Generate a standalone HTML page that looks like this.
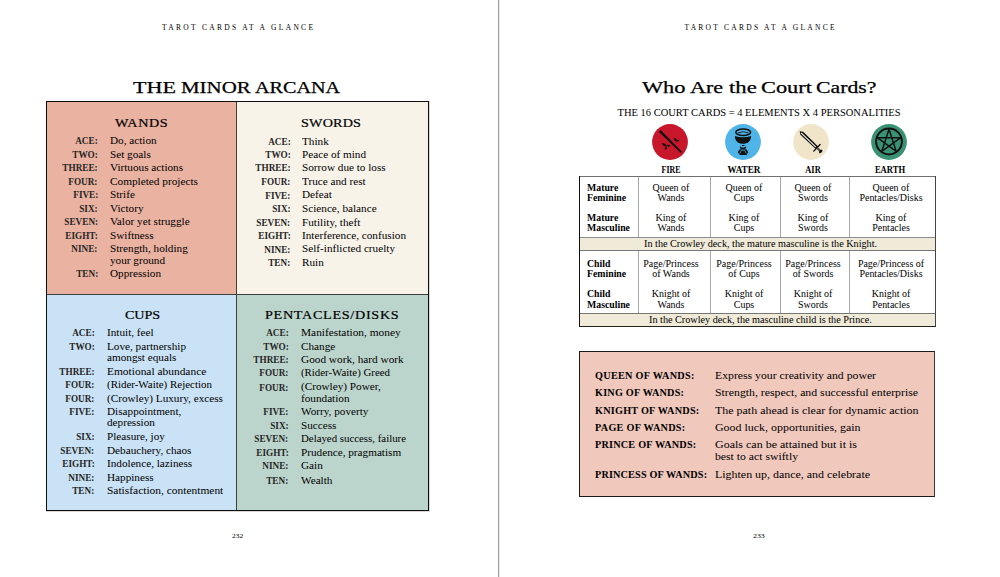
<!DOCTYPE html>
<html><head><meta charset="utf-8"><title>Tarot Cards at a Glance</title>
<style>
html,body{margin:0;padding:0;background:#fff;}
body{width:1000px;height:577px;position:relative;overflow:hidden;font-family:"Liberation Serif",serif;color:#1a1a1a;}
.t{position:absolute;white-space:nowrap;line-height:1;color:#000;}
.b{position:absolute;box-sizing:border-box;}
.ic{position:absolute;}
</style></head><body>
<!-- spine -->
<div class="b" style="left:498px;top:0;width:1px;height:577px;background:#a2a2a2"></div>
<div class="b" style="left:499px;top:0;width:1px;height:577px;background:#e6e6e6"></div>

<!-- left page: minor arcana grid -->
<div class="b" style="left:46px;top:101px;width:383px;height:410px;background:#0e0e0e"></div>
<div class="b" style="left:47px;top:102px;width:189px;height:192px;background:#eab2a0"></div>
<div class="b" style="left:237px;top:102px;width:191px;height:192px;background:#f8f3e9"></div>
<div class="b" style="left:47px;top:295px;width:189px;height:215px;background:#cae2f5"></div>
<div class="b" style="left:237px;top:295px;width:191px;height:215px;background:#bcd5cc"></div>
<div class="b" style="left:236px;top:102px;width:1px;height:408px;background:#3b403d"></div>
<div class="b" style="left:47px;top:294px;width:381px;height:1px;background:#3b403d"></div>
<div class="b" style="left:46px;top:511px;width:384px;height:1px;background:#d8d8d8"></div>
<div class="b" style="left:429px;top:101px;width:1px;height:411px;background:#d8d8d8"></div>

<!-- right page: court card table -->
<div class="b" style="left:579px;top:176px;width:357px;height:151px;background:#fff"></div>
<div class="b" style="left:579px;top:176px;width:357px;height:1px;background:#707070"></div>
<div class="b" style="left:579px;top:176px;width:1px;height:151px;background:#111"></div>
<div class="b" style="left:935px;top:176px;width:1px;height:151px;background:#444"></div>
<div class="b" style="left:579px;top:326px;width:357px;height:1px;background:#222"></div>
<div class="b" style="left:638px;top:177px;width:1px;height:60px;background:#a8a8a8"></div>
<div class="b" style="left:710px;top:177px;width:1px;height:60px;background:#a8a8a8"></div>
<div class="b" style="left:780px;top:177px;width:1px;height:60px;background:#a8a8a8"></div>
<div class="b" style="left:849px;top:177px;width:1px;height:60px;background:#a8a8a8"></div>
<div class="b" style="left:638px;top:251px;width:1px;height:62px;background:#a8a8a8"></div>
<div class="b" style="left:710px;top:251px;width:1px;height:62px;background:#a8a8a8"></div>
<div class="b" style="left:780px;top:251px;width:1px;height:62px;background:#a8a8a8"></div>
<div class="b" style="left:849px;top:251px;width:1px;height:62px;background:#a8a8a8"></div>
<div class="b" style="left:580px;top:237px;width:355px;height:1px;background:#8c8c8c"></div>
<div class="b" style="left:580px;top:238px;width:355px;height:12px;background:#f0ead8"></div>
<div class="b" style="left:580px;top:250px;width:355px;height:1px;background:#777"></div>
<div class="b" style="left:580px;top:313px;width:355px;height:1px;background:#777"></div>
<div class="b" style="left:580px;top:314px;width:355px;height:12px;background:#f0ead8"></div>

<!-- wands box -->
<div class="b" style="left:579px;top:351px;width:356px;height:146px;background:#f0c8bc;border:1px solid #1e1a18;border-right-color:#3e3430"></div>

<svg class="ic" style="left:650.1px;top:121.9px" width="40" height="40" viewBox="-20 -20 40 40"><circle r="17.9" fill="#c8172a"/><path d="M-11.22,-10.18 L10.70,11.00 L11.90,9.80 L-9.38,-12.02Z" fill="#111"/><path d="M-9.2,-8.6 L-7.4,-7.2" stroke="#5a0c12" stroke-width="0.6"/><path d="M4.40,-4.30 Q3.31,-1.46 6.20,-0.50 Q7.29,-3.34 4.40,-4.30Z" fill="#111"/><path d="M6.00,-0.60 Q8.38,0.44 9.50,-1.90 Q7.12,-2.94 6.00,-0.60Z" fill="#111"/><path d="M-8.10,1.30 Q-7.01,4.95 -3.30,4.10 Q-4.39,0.45 -8.10,1.30Z" fill="#111"/><path d="M-3.40,4.00 Q-1.04,5.17 0.70,3.20 Q-1.66,2.03 -3.40,4.00Z" fill="#111"/><path d="M-3.30,3.90 Q-6.10,4.99 -4.80,7.70 Q-2.00,6.61 -3.30,3.90Z" fill="#111"/></svg>
<svg class="ic" style="left:723.0px;top:121.80000000000001px" width="40" height="40" viewBox="-20 -20 40 40"><circle r="17.9" fill="#4fb4e8"/><path d="M-8.1,-6.0 Q0,-3.4 8.1,-6.0 C8.1,-1.0 4.8,1.8 0,1.8 C-4.8,1.8 -8.1,-1.0 -8.1,-6.0Z" fill="#111"/><ellipse cx="0.2" cy="-9.7" rx="7.4" ry="3.2" fill="#4fb4e8" stroke="#111" stroke-width="1.5"/><path d="M-5.2,-9.0 Q0.2,-11.6 5.6,-9.0" fill="none" stroke="#111" stroke-width="0.9"/><path d="M-1.4,3.1 L1.6,3.1 L1.2,4.0 L-1.0,4.0Z" fill="#111"/><path d="M-3.2,4.6 Q0,8.4 3.2,4.6 L2.6,6.4 Q0,8.2 -2.6,6.4Z" fill="#111"/><path d="M-3.0,4.9 Q0,7.6 3.0,4.9" fill="none" stroke="#111" stroke-width="1.2"/><path d="M-3.2,7.3 L3.4,7.3 L5.3,10.2 L3.6,12.9 L-3.0,12.9 L-5.4,10.2Z" fill="#111"/><path d="M-3.2,11.6 L-1.7,8.3 L1.8,8.3 L3.3,11.6" fill="none" stroke="#4fb4e8" stroke-width="0.75"/></svg>
<svg class="ic" style="left:791.3px;top:121.9px" width="40" height="40" viewBox="-20 -20 40 40"><circle r="17.9" fill="#f1e5c9"/><path d="M-11.32,-10.71 L-10.61,-7.26 L4.52,6.83 L6.88,4.37 L-7.84,-10.15Z" fill="#111"/><path d="M-9.94,-9.11 L4.70,4.91" stroke="#fbf7ee" stroke-width="1.1"/><path d="M2.73,9.13 L9.10,2.49" stroke="#000" stroke-width="1.2" stroke-linecap="round"/><path d="M6.13,6.02 L9.02,8.78" stroke="#4a4a4a" stroke-width="2.2"/><ellipse cx="9.74" cy="9.47" rx="1.3" ry="2.1" transform="rotate(43.8 9.74 9.47)" fill="#111"/></svg>
<svg class="ic" style="left:869.2px;top:121.80000000000001px" width="40" height="40" viewBox="-20 -20 40 40"><circle r="17.9" fill="#3a9274"/><circle cy="-0.5" r="12.9" fill="none" stroke="#111" stroke-width="2.0"/><path d="M0.00,-12.80 L7.23,9.45 L-11.70,-4.30 L11.70,-4.30 L-7.23,9.45Z" fill="none" stroke="#111" stroke-width="1.5" stroke-linejoin="bevel"/></svg>
<div class="t" style="left:162.00px;top:24px;font-size:7.5px;letter-spacing:2.300px;">TAROT CARDS AT A GLANCE</div>
<div class="t" style="left:684.40px;top:24px;font-size:7.5px;letter-spacing:2.260px;">TAROT CARDS AT A GLANCE</div>
<div class="t" style="left:133.30px;top:79px;font-size:17px;-webkit-text-stroke:0.25px #000;transform:scaleX(1.2982);transform-origin:0 0;">THE</div>
<div class="t" style="left:180.80px;top:79px;font-size:17px;-webkit-text-stroke:0.25px #000;transform:scaleX(1.2299);transform-origin:0 0;">MINOR</div>
<div class="t" style="left:255.20px;top:79px;font-size:17px;-webkit-text-stroke:0.25px #000;transform:scaleX(1.1853);transform-origin:0 0;">ARCANA</div>
<div class="t" style="left:115.00px;top:117px;font-size:12px;letter-spacing:0.476px;-webkit-text-stroke:0.2px #000;transform:scaleX(1.1800);transform-origin:0 0;">WANDS</div>
<div class="t" style="left:301.00px;top:117px;font-size:12px;letter-spacing:0.166px;-webkit-text-stroke:0.2px #000;transform:scaleX(1.1800);transform-origin:0 0;">SWORDS</div>
<div class="t" style="left:124.90px;top:309px;font-size:12px;letter-spacing:-0.095px;-webkit-text-stroke:0.2px #000;transform:scaleX(1.1800);transform-origin:0 0;">CUPS</div>
<div class="t" style="left:265.00px;top:309px;font-size:12px;letter-spacing:0.589px;-webkit-text-stroke:0.2px #000;transform:scaleX(1.1800);transform-origin:0 0;">PENTACLES/DISKS</div>
<div class="t" style="right:902.20px;top:137px;font-size:9.3px;font-weight:700;-webkit-text-stroke:0;color:#262626;transform:scaleX(0.9900);transform-origin:100% 0;">ACE:</div>
<div class="t" style="left:110.40px;top:136px;font-size:10px;transform:scaleX(1.1200);transform-origin:0 0;">Do, action</div>
<div class="t" style="right:902.20px;top:151px;font-size:9.3px;font-weight:700;-webkit-text-stroke:0;color:#262626;transform:scaleX(0.9900);transform-origin:100% 0;">TWO:</div>
<div class="t" style="left:110.40px;top:150px;font-size:10px;transform:scaleX(1.1200);transform-origin:0 0;">Set goals</div>
<div class="t" style="right:902.20px;top:164px;font-size:9.3px;font-weight:700;-webkit-text-stroke:0;color:#262626;transform:scaleX(0.9900);transform-origin:100% 0;">THREE:</div>
<div class="t" style="left:110.40px;top:163px;font-size:10px;transform:scaleX(1.1200);transform-origin:0 0;">Virtuous actions</div>
<div class="t" style="right:902.20px;top:178px;font-size:9.3px;font-weight:700;-webkit-text-stroke:0;color:#262626;transform:scaleX(0.9900);transform-origin:100% 0;">FOUR:</div>
<div class="t" style="left:110.40px;top:177px;font-size:10px;transform:scaleX(1.1275);transform-origin:0 0;">Completed projects</div>
<div class="t" style="right:902.20px;top:191px;font-size:9.3px;font-weight:700;-webkit-text-stroke:0;color:#262626;transform:scaleX(0.9900);transform-origin:100% 0;">FIVE:</div>
<div class="t" style="left:110.40px;top:190px;font-size:10px;transform:scaleX(1.1200);transform-origin:0 0;">Strife</div>
<div class="t" style="right:902.20px;top:205px;font-size:9.3px;font-weight:700;-webkit-text-stroke:0;color:#262626;transform:scaleX(0.9900);transform-origin:100% 0;">SIX:</div>
<div class="t" style="left:110.40px;top:204px;font-size:10px;transform:scaleX(1.1200);transform-origin:0 0;">Victory</div>
<div class="t" style="right:902.20px;top:218px;font-size:9.3px;font-weight:700;-webkit-text-stroke:0;color:#262626;transform:scaleX(0.9900);transform-origin:100% 0;">SEVEN:</div>
<div class="t" style="left:110.40px;top:217px;font-size:10px;transform:scaleX(1.1200);transform-origin:0 0;">Valor yet struggle</div>
<div class="t" style="right:902.20px;top:232px;font-size:9.3px;font-weight:700;-webkit-text-stroke:0;color:#262626;transform:scaleX(0.9900);transform-origin:100% 0;">EIGHT:</div>
<div class="t" style="left:110.40px;top:231px;font-size:10px;transform:scaleX(1.1200);transform-origin:0 0;">Swiftness</div>
<div class="t" style="right:902.20px;top:245px;font-size:9.3px;font-weight:700;-webkit-text-stroke:0;color:#262626;transform:scaleX(0.9900);transform-origin:100% 0;">NINE:</div>
<div class="t" style="left:110.40px;top:244px;font-size:10px;transform:scaleX(1.1200);transform-origin:0 0;">Strength, holding</div>
<div class="t" style="left:110.40px;top:256px;font-size:10px;transform:scaleX(1.1200);transform-origin:0 0;">your ground</div>
<div class="t" style="right:902.20px;top:270px;font-size:9.3px;font-weight:700;-webkit-text-stroke:0;color:#262626;transform:scaleX(0.9900);transform-origin:100% 0;">TEN:</div>
<div class="t" style="left:110.40px;top:269px;font-size:10px;transform:scaleX(1.1200);transform-origin:0 0;">Oppression</div>
<div class="t" style="right:709.60px;top:138px;font-size:9.3px;font-weight:700;-webkit-text-stroke:0;color:#262626;transform:scaleX(0.9900);transform-origin:100% 0;">ACE:</div>
<div class="t" style="left:302.40px;top:137px;font-size:10px;transform:scaleX(1.1200);transform-origin:0 0;">Think</div>
<div class="t" style="right:709.60px;top:151px;font-size:9.3px;font-weight:700;-webkit-text-stroke:0;color:#262626;transform:scaleX(0.9900);transform-origin:100% 0;">TWO:</div>
<div class="t" style="left:302.40px;top:150px;font-size:10px;transform:scaleX(1.1200);transform-origin:0 0;">Peace of mind</div>
<div class="t" style="right:709.60px;top:164px;font-size:9.3px;font-weight:700;-webkit-text-stroke:0;color:#262626;transform:scaleX(0.9900);transform-origin:100% 0;">THREE:</div>
<div class="t" style="left:302.40px;top:163px;font-size:10px;transform:scaleX(1.1200);transform-origin:0 0;">Sorrow due to loss</div>
<div class="t" style="right:709.60px;top:178px;font-size:9.3px;font-weight:700;-webkit-text-stroke:0;color:#262626;transform:scaleX(0.9900);transform-origin:100% 0;">FOUR:</div>
<div class="t" style="left:302.40px;top:177px;font-size:10px;transform:scaleX(1.1200);transform-origin:0 0;">Truce and rest</div>
<div class="t" style="right:709.60px;top:192px;font-size:9.3px;font-weight:700;-webkit-text-stroke:0;color:#262626;transform:scaleX(0.9900);transform-origin:100% 0;">FIVE:</div>
<div class="t" style="left:302.40px;top:190px;font-size:10px;transform:scaleX(1.1200);transform-origin:0 0;">Defeat</div>
<div class="t" style="right:709.60px;top:205px;font-size:9.3px;font-weight:700;-webkit-text-stroke:0;color:#262626;transform:scaleX(0.9900);transform-origin:100% 0;">SIX:</div>
<div class="t" style="left:302.40px;top:204px;font-size:10px;transform:scaleX(1.1200);transform-origin:0 0;">Science, balance</div>
<div class="t" style="right:709.60px;top:219px;font-size:9.3px;font-weight:700;-webkit-text-stroke:0;color:#262626;transform:scaleX(0.9900);transform-origin:100% 0;">SEVEN:</div>
<div class="t" style="left:302.40px;top:218px;font-size:10px;transform:scaleX(1.1200);transform-origin:0 0;">Futility, theft</div>
<div class="t" style="right:709.60px;top:232px;font-size:9.3px;font-weight:700;-webkit-text-stroke:0;color:#262626;transform:scaleX(0.9900);transform-origin:100% 0;">EIGHT:</div>
<div class="t" style="left:302.40px;top:231px;font-size:10px;transform:scaleX(1.1215);transform-origin:0 0;">Interference, confusion</div>
<div class="t" style="right:709.60px;top:246px;font-size:9.3px;font-weight:700;-webkit-text-stroke:0;color:#262626;transform:scaleX(0.9900);transform-origin:100% 0;">NINE:</div>
<div class="t" style="left:302.40px;top:244px;font-size:10px;transform:scaleX(1.1200);transform-origin:0 0;">Self-inflicted cruelty</div>
<div class="t" style="right:709.60px;top:259px;font-size:9.3px;font-weight:700;-webkit-text-stroke:0;color:#262626;transform:scaleX(0.9900);transform-origin:100% 0;">TEN:</div>
<div class="t" style="left:302.40px;top:258px;font-size:10px;transform:scaleX(1.1200);transform-origin:0 0;">Ruin</div>
<div class="t" style="right:905.60px;top:329px;font-size:9.3px;font-weight:700;-webkit-text-stroke:0;color:#262626;transform:scaleX(0.9900);transform-origin:100% 0;">ACE:</div>
<div class="t" style="left:107.00px;top:328px;font-size:10px;transform:scaleX(1.1200);transform-origin:0 0;">Intuit, feel</div>
<div class="t" style="right:905.60px;top:343px;font-size:9.3px;font-weight:700;-webkit-text-stroke:0;color:#262626;transform:scaleX(0.9900);transform-origin:100% 0;">TWO:</div>
<div class="t" style="left:107.00px;top:342px;font-size:10px;transform:scaleX(1.1200);transform-origin:0 0;">Love, partnership</div>
<div class="t" style="left:107.00px;top:353px;font-size:10px;transform:scaleX(1.1200);transform-origin:0 0;">amongst equals</div>
<div class="t" style="right:905.60px;top:368px;font-size:9.3px;font-weight:700;-webkit-text-stroke:0;color:#262626;transform:scaleX(0.9900);transform-origin:100% 0;">THREE:</div>
<div class="t" style="left:107.00px;top:367px;font-size:10px;transform:scaleX(1.1424);transform-origin:0 0;">Emotional abundance</div>
<div class="t" style="right:905.60px;top:381px;font-size:9.3px;font-weight:700;-webkit-text-stroke:0;color:#262626;transform:scaleX(0.9900);transform-origin:100% 0;">FOUR:</div>
<div class="t" style="left:107.00px;top:380px;font-size:10px;transform:scaleX(1.0938);transform-origin:0 0;">(Rider-Waite) Rejection</div>
<div class="t" style="right:905.60px;top:395px;font-size:9.3px;font-weight:700;-webkit-text-stroke:0;color:#262626;transform:scaleX(0.9900);transform-origin:100% 0;">FOUR:</div>
<div class="t" style="left:107.00px;top:394px;font-size:10px;transform:scaleX(1.1200);transform-origin:0 0;">(Crowley) Luxury, excess</div>
<div class="t" style="right:905.60px;top:408px;font-size:9.3px;font-weight:700;-webkit-text-stroke:0;color:#262626;transform:scaleX(0.9900);transform-origin:100% 0;">FIVE:</div>
<div class="t" style="left:107.00px;top:407px;font-size:10px;transform:scaleX(1.1200);transform-origin:0 0;">Disappointment,</div>
<div class="t" style="left:107.00px;top:418px;font-size:10px;transform:scaleX(1.1200);transform-origin:0 0;">depression</div>
<div class="t" style="right:905.60px;top:433px;font-size:9.3px;font-weight:700;-webkit-text-stroke:0;color:#262626;transform:scaleX(0.9900);transform-origin:100% 0;">SIX:</div>
<div class="t" style="left:107.00px;top:432px;font-size:10px;transform:scaleX(1.1200);transform-origin:0 0;">Pleasure, joy</div>
<div class="t" style="right:905.60px;top:447px;font-size:9.3px;font-weight:700;-webkit-text-stroke:0;color:#262626;transform:scaleX(0.9900);transform-origin:100% 0;">SEVEN:</div>
<div class="t" style="left:107.00px;top:446px;font-size:10px;transform:scaleX(1.1200);transform-origin:0 0;">Debauchery, chaos</div>
<div class="t" style="right:905.60px;top:460px;font-size:9.3px;font-weight:700;-webkit-text-stroke:0;color:#262626;transform:scaleX(0.9900);transform-origin:100% 0;">EIGHT:</div>
<div class="t" style="left:107.00px;top:459px;font-size:10px;transform:scaleX(1.1200);transform-origin:0 0;">Indolence, laziness</div>
<div class="t" style="right:905.60px;top:474px;font-size:9.3px;font-weight:700;-webkit-text-stroke:0;color:#262626;transform:scaleX(0.9900);transform-origin:100% 0;">NINE:</div>
<div class="t" style="left:107.00px;top:473px;font-size:10px;transform:scaleX(1.1200);transform-origin:0 0;">Happiness</div>
<div class="t" style="right:905.60px;top:487px;font-size:9.3px;font-weight:700;-webkit-text-stroke:0;color:#262626;transform:scaleX(0.9900);transform-origin:100% 0;">TEN:</div>
<div class="t" style="left:107.00px;top:486px;font-size:10px;transform:scaleX(1.1442);transform-origin:0 0;">Satisfaction, contentment</div>
<div class="t" style="right:711.50px;top:329px;font-size:9.3px;font-weight:700;-webkit-text-stroke:0;color:#262626;transform:scaleX(0.9900);transform-origin:100% 0;">ACE:</div>
<div class="t" style="left:301.00px;top:328px;font-size:10px;transform:scaleX(1.1348);transform-origin:0 0;">Manifestation, money</div>
<div class="t" style="right:711.50px;top:343px;font-size:9.3px;font-weight:700;-webkit-text-stroke:0;color:#262626;transform:scaleX(0.9900);transform-origin:100% 0;">TWO:</div>
<div class="t" style="left:301.00px;top:342px;font-size:10px;transform:scaleX(1.1200);transform-origin:0 0;">Change</div>
<div class="t" style="right:711.50px;top:356px;font-size:9.3px;font-weight:700;-webkit-text-stroke:0;color:#262626;transform:scaleX(0.9900);transform-origin:100% 0;">THREE:</div>
<div class="t" style="left:301.00px;top:355px;font-size:10px;transform:scaleX(1.1274);transform-origin:0 0;">Good work, hard work</div>
<div class="t" style="right:711.50px;top:369px;font-size:9.3px;font-weight:700;-webkit-text-stroke:0;color:#262626;transform:scaleX(0.9900);transform-origin:100% 0;">FOUR:</div>
<div class="t" style="left:301.00px;top:368px;font-size:10px;transform:scaleX(1.0852);transform-origin:0 0;">(Rider-Waite) Greed</div>
<div class="t" style="right:711.50px;top:384px;font-size:9.3px;font-weight:700;-webkit-text-stroke:0;color:#262626;transform:scaleX(0.9900);transform-origin:100% 0;">FOUR:</div>
<div class="t" style="left:301.00px;top:382px;font-size:10px;transform:scaleX(1.1200);transform-origin:0 0;">(Crowley) Power,</div>
<div class="t" style="left:301.00px;top:394px;font-size:10px;transform:scaleX(1.1200);transform-origin:0 0;">foundation</div>
<div class="t" style="right:711.50px;top:408px;font-size:9.3px;font-weight:700;-webkit-text-stroke:0;color:#262626;transform:scaleX(0.9900);transform-origin:100% 0;">FIVE:</div>
<div class="t" style="left:301.00px;top:407px;font-size:10px;transform:scaleX(1.1200);transform-origin:0 0;">Worry, poverty</div>
<div class="t" style="right:711.50px;top:422px;font-size:9.3px;font-weight:700;-webkit-text-stroke:0;color:#262626;transform:scaleX(0.9900);transform-origin:100% 0;">SIX:</div>
<div class="t" style="left:301.00px;top:421px;font-size:10px;transform:scaleX(1.1200);transform-origin:0 0;">Success</div>
<div class="t" style="right:711.50px;top:435px;font-size:9.3px;font-weight:700;-webkit-text-stroke:0;color:#262626;transform:scaleX(0.9900);transform-origin:100% 0;">SEVEN:</div>
<div class="t" style="left:301.00px;top:434px;font-size:10px;transform:scaleX(1.0835);transform-origin:0 0;">Delayed success, failure</div>
<div class="t" style="right:711.50px;top:449px;font-size:9.3px;font-weight:700;-webkit-text-stroke:0;color:#262626;transform:scaleX(0.9900);transform-origin:100% 0;">EIGHT:</div>
<div class="t" style="left:301.00px;top:448px;font-size:10px;transform:scaleX(1.1200);transform-origin:0 0;">Prudence, pragmatism</div>
<div class="t" style="right:711.50px;top:462px;font-size:9.3px;font-weight:700;-webkit-text-stroke:0;color:#262626;transform:scaleX(0.9900);transform-origin:100% 0;">NINE:</div>
<div class="t" style="left:301.00px;top:461px;font-size:10px;transform:scaleX(1.1200);transform-origin:0 0;">Gain</div>
<div class="t" style="right:711.50px;top:477px;font-size:9.3px;font-weight:700;-webkit-text-stroke:0;color:#262626;transform:scaleX(0.9900);transform-origin:100% 0;">TEN:</div>
<div class="t" style="left:301.00px;top:476px;font-size:10px;transform:scaleX(1.1200);transform-origin:0 0;">Wealth</div>
<div class="t" style="left:232.00px;top:533px;font-size:6.8px;transform:scaleX(1.0977);transform-origin:0 0;">232</div>
<div class="t" style="left:753.20px;top:533px;font-size:6.8px;transform:scaleX(1.1565);transform-origin:0 0;">233</div>
<div class="t" style="left:641.50px;top:79px;font-size:17px;-webkit-text-stroke:0.25px #000;transform:scaleX(1.3163);transform-origin:0 0;">Who</div>
<div class="t" style="left:690.00px;top:79px;font-size:17px;-webkit-text-stroke:0.25px #000;transform:scaleX(1.2949);transform-origin:0 0;">Are</div>
<div class="t" style="left:728.50px;top:79px;font-size:17px;-webkit-text-stroke:0.25px #000;transform:scaleX(1.3329);transform-origin:0 0;">the</div>
<div class="t" style="left:760.70px;top:79px;font-size:17px;-webkit-text-stroke:0.25px #000;transform:scaleX(1.3167);transform-origin:0 0;">Court</div>
<div class="t" style="left:815.80px;top:79px;font-size:17px;-webkit-text-stroke:0.25px #000;transform:scaleX(1.2792);transform-origin:0 0;">Cards?</div>
<div class="t" style="left:617.50px;top:108px;font-size:10.5px;">THE 16 COURT CARDS = 4 ELEMENTS X 4 PERSONALITIES</div>
<div class="t" style="left:671.20px;top:165px;font-size:10.5px;font-weight:700;-webkit-text-stroke:0;transform:translateX(-50%) scaleX(0.7492);transform-origin:50% 0;">FIRE</div>
<div class="t" style="left:743.90px;top:165px;font-size:10.5px;font-weight:700;-webkit-text-stroke:0;transform:translateX(-50%) scaleX(0.8745);transform-origin:50% 0;">WATER</div>
<div class="t" style="left:813.00px;top:165px;font-size:10.5px;font-weight:700;-webkit-text-stroke:0;transform:translateX(-50%) scaleX(0.7994);transform-origin:50% 0;">AIR</div>
<div class="t" style="left:890.40px;top:165px;font-size:10.5px;font-weight:700;-webkit-text-stroke:0;transform:translateX(-50%) scaleX(0.8166);transform-origin:50% 0;">EARTH</div>
<div class="t" style="left:586.70px;top:184px;font-size:9.5px;font-weight:700;-webkit-text-stroke:0;transform:scaleX(1.0300);transform-origin:0 0;">Mature</div>
<div class="t" style="left:586.70px;top:194px;font-size:9.5px;font-weight:700;-webkit-text-stroke:0;transform:scaleX(1.0300);transform-origin:0 0;">Feminine</div>
<div class="t" style="left:586.70px;top:214px;font-size:9.5px;font-weight:700;-webkit-text-stroke:0;transform:scaleX(1.0300);transform-origin:0 0;">Mature</div>
<div class="t" style="left:586.70px;top:224px;font-size:9.5px;font-weight:700;-webkit-text-stroke:0;transform:scaleX(1.0300);transform-origin:0 0;">Masculine</div>
<div class="t" style="left:586.70px;top:260px;font-size:9.5px;font-weight:700;-webkit-text-stroke:0;transform:scaleX(1.0300);transform-origin:0 0;">Child</div>
<div class="t" style="left:586.70px;top:270px;font-size:9.5px;font-weight:700;-webkit-text-stroke:0;transform:scaleX(1.0300);transform-origin:0 0;">Feminine</div>
<div class="t" style="left:586.70px;top:290px;font-size:9.5px;font-weight:700;-webkit-text-stroke:0;transform:scaleX(1.0300);transform-origin:0 0;">Child</div>
<div class="t" style="left:586.70px;top:301px;font-size:9.5px;font-weight:700;-webkit-text-stroke:0;transform:scaleX(1.0300);transform-origin:0 0;">Masculine</div>
<div class="t" style="left:671.10px;top:184px;font-size:9.5px;transform:translateX(-50%) scaleX(1.0500);transform-origin:50% 0;">Queen of</div>
<div class="t" style="left:671.10px;top:194px;font-size:9.5px;transform:translateX(-50%) scaleX(1.0500);transform-origin:50% 0;">Wands</div>
<div class="t" style="left:744.00px;top:184px;font-size:9.5px;transform:translateX(-50%) scaleX(1.0500);transform-origin:50% 0;">Queen of</div>
<div class="t" style="left:744.00px;top:194px;font-size:9.5px;transform:translateX(-50%) scaleX(1.0500);transform-origin:50% 0;">Cups</div>
<div class="t" style="left:813.30px;top:184px;font-size:9.5px;transform:translateX(-50%) scaleX(1.0500);transform-origin:50% 0;">Queen of</div>
<div class="t" style="left:813.30px;top:194px;font-size:9.5px;transform:translateX(-50%) scaleX(1.0500);transform-origin:50% 0;">Swords</div>
<div class="t" style="left:890.70px;top:184px;font-size:9.5px;transform:translateX(-50%) scaleX(1.0500);transform-origin:50% 0;">Queen of</div>
<div class="t" style="left:890.70px;top:194px;font-size:9.5px;transform:translateX(-50%) scaleX(1.0500);transform-origin:50% 0;">Pentacles/Disks</div>
<div class="t" style="left:671.10px;top:214px;font-size:9.5px;transform:translateX(-50%) scaleX(1.0500);transform-origin:50% 0;">King of</div>
<div class="t" style="left:671.10px;top:224px;font-size:9.5px;transform:translateX(-50%) scaleX(1.0500);transform-origin:50% 0;">Wands</div>
<div class="t" style="left:744.00px;top:214px;font-size:9.5px;transform:translateX(-50%) scaleX(1.0500);transform-origin:50% 0;">King of</div>
<div class="t" style="left:744.00px;top:224px;font-size:9.5px;transform:translateX(-50%) scaleX(1.0500);transform-origin:50% 0;">Cups</div>
<div class="t" style="left:813.30px;top:214px;font-size:9.5px;transform:translateX(-50%) scaleX(1.0500);transform-origin:50% 0;">King of</div>
<div class="t" style="left:813.30px;top:224px;font-size:9.5px;transform:translateX(-50%) scaleX(1.0500);transform-origin:50% 0;">Swords</div>
<div class="t" style="left:890.70px;top:214px;font-size:9.5px;transform:translateX(-50%) scaleX(1.0500);transform-origin:50% 0;">King of</div>
<div class="t" style="left:890.70px;top:224px;font-size:9.5px;transform:translateX(-50%) scaleX(1.0500);transform-origin:50% 0;">Pentacles</div>
<div class="t" style="left:671.10px;top:260px;font-size:9.5px;transform:translateX(-50%) scaleX(1.0500);transform-origin:50% 0;">Page/Princess</div>
<div class="t" style="left:671.10px;top:270px;font-size:9.5px;transform:translateX(-50%) scaleX(1.0500);transform-origin:50% 0;">of Wands</div>
<div class="t" style="left:744.00px;top:260px;font-size:9.5px;transform:translateX(-50%) scaleX(1.0500);transform-origin:50% 0;">Page/Princess</div>
<div class="t" style="left:744.00px;top:270px;font-size:9.5px;transform:translateX(-50%) scaleX(1.0500);transform-origin:50% 0;">of Cups</div>
<div class="t" style="left:813.30px;top:260px;font-size:9.5px;transform:translateX(-50%) scaleX(1.0500);transform-origin:50% 0;">Page/Princess</div>
<div class="t" style="left:813.30px;top:270px;font-size:9.5px;transform:translateX(-50%) scaleX(1.0500);transform-origin:50% 0;">of Swords</div>
<div class="t" style="left:890.70px;top:260px;font-size:9.5px;transform:translateX(-50%) scaleX(1.0500);transform-origin:50% 0;">Page/Princess of</div>
<div class="t" style="left:890.70px;top:270px;font-size:9.5px;transform:translateX(-50%) scaleX(1.0500);transform-origin:50% 0;">Pentacles/Disks</div>
<div class="t" style="left:671.10px;top:290px;font-size:9.5px;transform:translateX(-50%) scaleX(1.0500);transform-origin:50% 0;">Knight of</div>
<div class="t" style="left:671.10px;top:301px;font-size:9.5px;transform:translateX(-50%) scaleX(1.0500);transform-origin:50% 0;">Wands</div>
<div class="t" style="left:744.00px;top:290px;font-size:9.5px;transform:translateX(-50%) scaleX(1.0500);transform-origin:50% 0;">Knight of</div>
<div class="t" style="left:744.00px;top:301px;font-size:9.5px;transform:translateX(-50%) scaleX(1.0500);transform-origin:50% 0;">Cups</div>
<div class="t" style="left:813.30px;top:290px;font-size:9.5px;transform:translateX(-50%) scaleX(1.0500);transform-origin:50% 0;">Knight of</div>
<div class="t" style="left:813.30px;top:301px;font-size:9.5px;transform:translateX(-50%) scaleX(1.0500);transform-origin:50% 0;">Swords</div>
<div class="t" style="left:890.70px;top:290px;font-size:9.5px;transform:translateX(-50%) scaleX(1.0500);transform-origin:50% 0;">Knight of</div>
<div class="t" style="left:890.70px;top:301px;font-size:9.5px;transform:translateX(-50%) scaleX(1.0500);transform-origin:50% 0;">Pentacles</div>
<div class="t" style="left:644.20px;top:240px;font-size:9.5px;transform:scaleX(1.0736);transform-origin:0 0;">In the Crowley deck, the mature masculine is the Knight.</div>
<div class="t" style="left:649.40px;top:316px;font-size:9.5px;transform:scaleX(1.0736);transform-origin:0 0;">In the Crowley deck, the masculine child is the Prince.</div>
<div class="t" style="left:594.90px;top:371px;font-size:9.8px;font-weight:700;-webkit-text-stroke:0;letter-spacing:0.295px;transform:scaleX(1.0400);transform-origin:0 0;">QUEEN OF WANDS:</div>
<div class="t" style="left:715.00px;top:370px;font-size:10.8px;transform:scaleX(1.0870);transform-origin:0 0;">Express your creativity and power</div>
<div class="t" style="left:594.90px;top:388px;font-size:9.8px;font-weight:700;-webkit-text-stroke:0;letter-spacing:0.217px;transform:scaleX(1.0400);transform-origin:0 0;">KING OF WANDS:</div>
<div class="t" style="left:715.00px;top:387px;font-size:10.8px;transform:scaleX(1.0920);transform-origin:0 0;">Strength, respect, and successful enterprise</div>
<div class="t" style="left:594.90px;top:406px;font-size:9.8px;font-weight:700;-webkit-text-stroke:0;letter-spacing:0.232px;transform:scaleX(1.0400);transform-origin:0 0;">KNIGHT OF WANDS:</div>
<div class="t" style="left:715.00px;top:405px;font-size:10.8px;transform:scaleX(1.1074);transform-origin:0 0;">The path ahead is clear for dynamic action</div>
<div class="t" style="left:594.90px;top:423px;font-size:9.8px;font-weight:700;-webkit-text-stroke:0;letter-spacing:0.279px;transform:scaleX(1.0400);transform-origin:0 0;">PAGE OF WANDS:</div>
<div class="t" style="left:715.00px;top:422px;font-size:10.8px;transform:scaleX(1.1059);transform-origin:0 0;">Good luck, opportunities, gain</div>
<div class="t" style="left:594.90px;top:440px;font-size:9.8px;font-weight:700;-webkit-text-stroke:0;letter-spacing:0.209px;transform:scaleX(1.0400);transform-origin:0 0;">PRINCE OF WANDS:</div>
<div class="t" style="left:715.00px;top:439px;font-size:10.8px;transform:scaleX(1.1117);transform-origin:0 0;">Goals can be attained but it is</div>
<div class="t" style="left:594.90px;top:470px;font-size:9.8px;font-weight:700;-webkit-text-stroke:0;letter-spacing:0.160px;transform:scaleX(1.0400);transform-origin:0 0;">PRINCESS OF WANDS:</div>
<div class="t" style="left:715.00px;top:469px;font-size:10.8px;transform:scaleX(1.1048);transform-origin:0 0;">Lighten up, dance, and celebrate</div>
<div class="t" style="left:715.00px;top:451px;font-size:10.8px;transform:scaleX(1.0854);transform-origin:0 0;">best to act swiftly</div>
</body></html>
